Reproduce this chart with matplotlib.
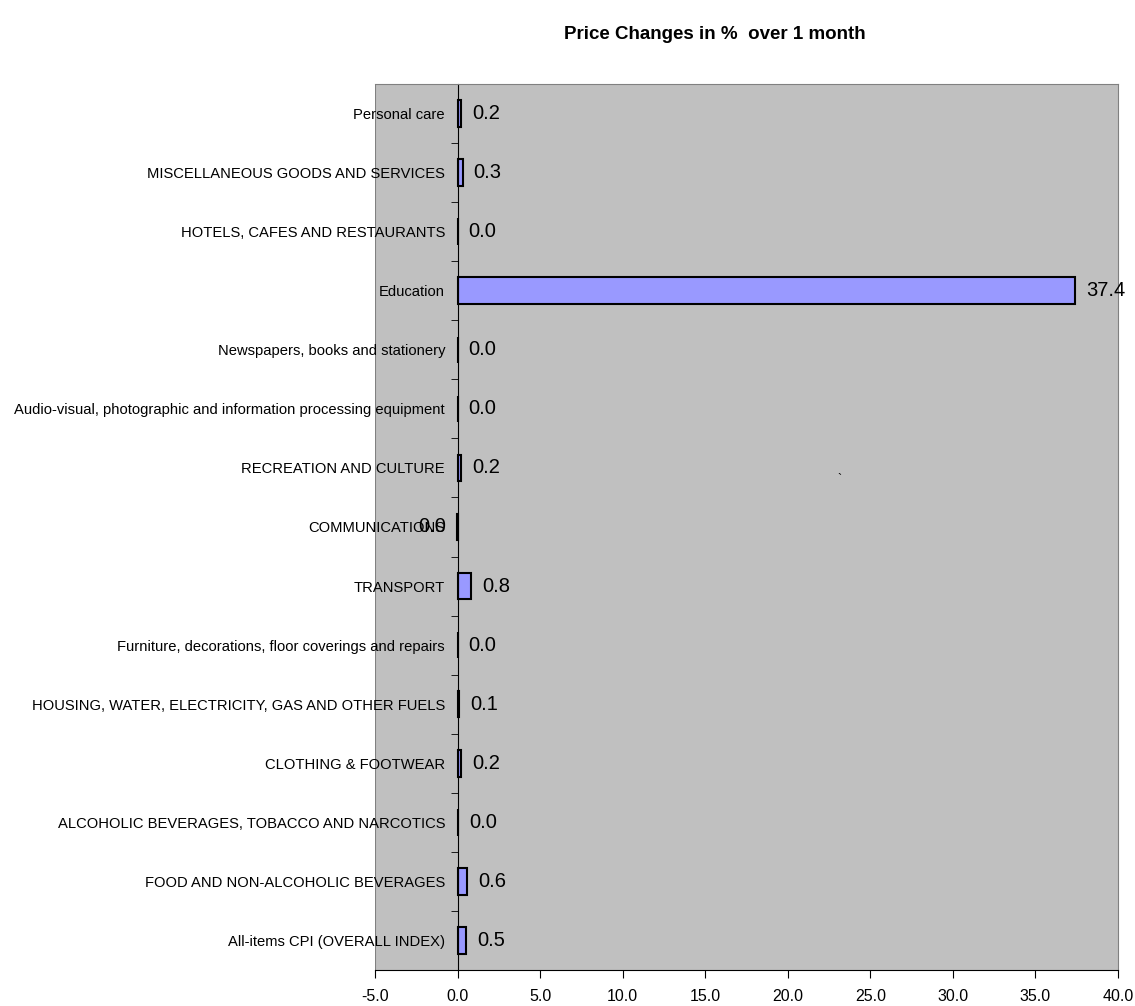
import numpy as np
from matplotlib import pyplot as plt
from matplotlib.ticker import FixedLocator

plt.rcParams['font.family'] = ['Liberation Sans', 'DejaVu Sans']

# categories top to bottom as in the picture
categories = [
    'Personal care',
    'MISCELLANEOUS GOODS AND SERVICES',
    'HOTELS, CAFES AND RESTAURANTS',
    'Education',
    'Newspapers, books and stationery',
    'Audio-visual, photographic and information processing equipment',
    'RECREATION AND CULTURE',
    'COMMUNICATIONS',
    'TRANSPORT',
    'Furniture, decorations, floor coverings and repairs',
    'HOUSING, WATER, ELECTRICITY, GAS AND OTHER FUELS',
    'CLOTHING & FOOTWEAR',
    'ALCOHOLIC BEVERAGES, TOBACCO AND NARCOTICS',
    'FOOD AND NON-ALCOHOLIC BEVERAGES',
    'All-items CPI (OVERALL INDEX)',
]
changes = [0.2, 0.3, 0.0, 37.4, 0.0, 0.0, 0.2, -0.04, 0.8, 0.0, 0.1, 0.2, 0.04, 0.6, 0.5]
x_ticks = [-5.0, 0.0, 5.0, 10.0, 15.0, 20.0, 25.0, 30.0, 35.0, 40.0]

fig = plt.figure(figsize=(11.35, 10.06), dpi=100)
ax = fig.add_axes([0.3304, 0.0358, 0.985 - 0.3304, 0.9165 - 0.0358])
ax.set_facecolor('#C0C0C0')

n = len(categories)
y = np.arange(n)[::-1]
ax.barh(y, changes, height=0.45, color='#9999FF', edgecolor='black', linewidth=1.5)

for yi, v in zip(y, changes):
    txt = '%.1f' % v
    if txt == '-0.0':
        txt = '0.0'
    if v < 0:
        ax.annotate(txt, (v, yi), xytext=(-8, 0), textcoords='offset points',
                    ha='right', va='center', fontsize=14.5)
    else:
        ax.annotate(txt, (v, yi), xytext=(8, 0), textcoords='offset points',
                    ha='left', va='center', fontsize=14.5)

ax.set_xlim(-5, 40)
ax.set_ylim(-0.5, n - 0.5)

# category axis sits on zero
ax.spines['left'].set_position(('data', 0))
ax.spines['left'].set_color('black')
ax.spines['bottom'].set_color('black')
ax.spines['top'].set_color('#808080')
ax.spines['right'].set_color('#808080')
ax.axvline(-5, color='#808080', lw=1.5, zorder=0.5)

ax.set_yticks(y)
ax.set_yticklabels(categories, fontsize=10.6)
ax.tick_params(axis='y', which='major', length=0, pad=9)
ax.yaxis.set_minor_locator(FixedLocator(np.arange(n - 1) + 0.5))
ax.tick_params(axis='y', which='minor', length=5, direction='out')

ax.set_xticks(x_ticks)
ax.set_xticklabels(['%.1f' % t for t in x_ticks], fontsize=11.5)
ax.tick_params(axis='x', length=6, direction='out', pad=8)

fig.text(0.630, 0.966, 'Price Changes in %  over 1 month', ha='center', va='center',
         fontsize=13.5, fontweight='bold')

# stray mark in the plot area
ax.text(23.1, 7.8, '`', ha='center', va='center', fontsize=9)

plt.savefig('out.png')
